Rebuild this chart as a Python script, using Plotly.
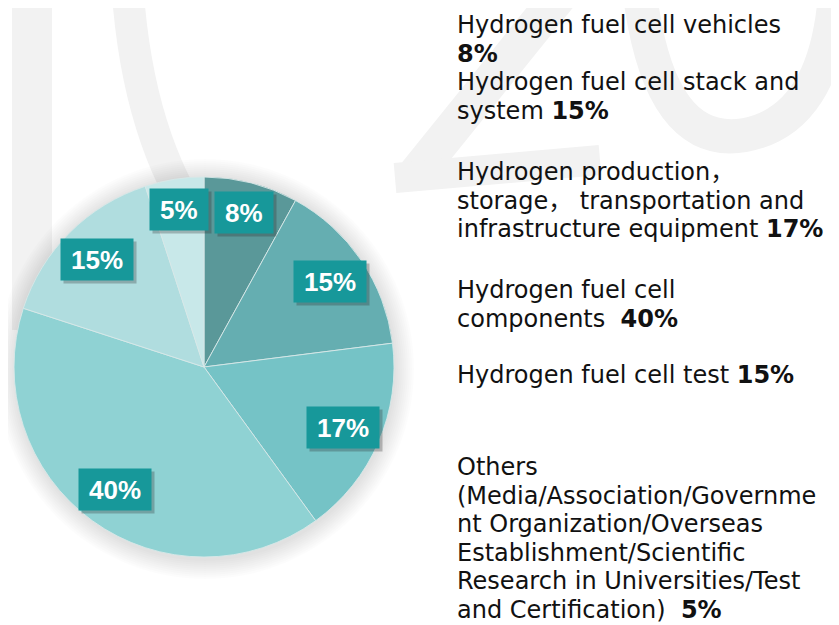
import math
import plotly.graph_objects as go

# ---------------- data ----------------
categories = [
    "Hydrogen fuel cell vehicles",
    "Hydrogen fuel cell stack and system",
    "Hydrogen production, storage, transportation and infrastructure equipment",
    "Hydrogen fuel cell components",
    "Hydrogen fuel cell test",
    "Others",
]
shares = [8, 15, 17, 40, 15, 5]
slice_colors = ["#5a9899", "#65aeb1", "#75c3c6", "#8fd2d3", "#b0dddf", "#c8e8e9"]

legend_blocks = [
    ["Hydrogen fuel cell vehicles", "<b>8%</b>"],
    ["Hydrogen fuel cell stack and", "system <b>15%</b>"],
    ["Hydrogen production\uff0c", "storage\uff0c\u00a0transportation and",
     "infrastructure equipment <b>17%</b>"],
    ["Hydrogen fuel cell", "components\u00a0\u00a0<b>40%</b>"],
    ["Hydrogen fuel cell test <b>15%</b>"],
    ["Others", "(Media/Association/Governme", "nt Organization/Overseas",
     "Establishment/Scientific", "Research in Universities/Test",
     "and Certification)\u00a0\u00a0<b>5%</b>"],
]

# ---------------- layout constants ----------------
PAGE_PAD = 8                      # default body margin of the html page
W, H = 839 - PAGE_PAD, 625 - PAGE_PAD
CX, CY, R = 204, 367, 190         # in window pixels
block_tops = [16.7, 73.3, 163.3, 281.7, 366.7, 458.3]
LINE = 28.6
TEXT_X = 456
TEXT_SIZE = 24
LABEL_SIZE = 26
BOX_COLOR = "#17989a"
TEXT_FONT = "DejaVu Sans, Noto Sans CJK SC"


def px(x):
    return (x - PAGE_PAD) / W


def py(y):
    return 1 - (y - PAGE_PAD) / H


fig = go.Figure()

# faint watermark strokes (decoration behind everything)
wm = "#f2f2f2"
shapes = [
    dict(type="rect", xref="paper", yref="paper", layer="below",
         x0=px(12), x1=px(52), y0=py(330), y1=py(0), line=dict(width=0), fillcolor=wm),
    dict(type="path", xref="paper", yref="paper", layer="below",
         path=f"M {px(128)} {py(-5)} Q {px(140)} {py(150)} {px(210)} {py(240)}",
         line=dict(color=wm, width=32)),
    dict(type="path", xref="paper", yref="paper", layer="below",
         path=f"M {px(560)} {py(-5)} L {px(415)} {py(175)}",
         line=dict(color=wm, width=36)),
    dict(type="path", xref="paper", yref="paper", layer="below",
         path=f"M {px(395)} {py(178)} L {px(600)} {py(160)}",
         line=dict(color=wm, width=30)),
    dict(type="path", xref="paper", yref="paper", layer="below",
         path=f"M {px(640)} {py(-5)} Q {px(660)} {py(150)} {px(745)} {py(135)} Q {px(825)} {py(120)} {px(835)} {py(-5)}",
         line=dict(color=wm, width=34)),
]
# soft shadow around the pie
for i in range(10):
    rr = R + 1 + i * 2
    shapes.append(dict(type="circle", xref="paper", yref="paper", layer="below",
                       x0=px(CX - rr + 1), x1=px(CX + rr + 1), y0=py(CY + rr + 3), y1=py(CY - rr + 1),
                       line=dict(width=0), fillcolor="rgba(0,0,0,0.01)"))

fig.add_trace(go.Pie(
    values=shares,
    labels=categories,
    sort=False,
    direction="clockwise",
    rotation=0,
    marker=dict(colors=slice_colors, line=dict(color="rgba(215,232,232,0.9)", width=1)),
    textinfo="none",
    hoverinfo="label+percent",
    showlegend=False,
    domain=dict(x=[px(CX - R), px(CX + R)], y=[py(CY + R), py(CY - R)]),
))

annotations = []
# percentage boxes placed at the middle angle of every slice
total = sum(shares)
cum = 0
for v in shares:
    mid = (cum + v / 2) / total * 2 * math.pi
    cum += v
    rf = 0.84 if v < 10 else 0.8
    lx = CX + R * rf * math.sin(mid)
    ly = CY - R * rf * math.cos(mid)
    txt = f"{v}%"
    bw = 14.5 * (len(txt) - 1) + 43
    common = dict(xref="paper", yref="paper", x=px(lx), y=py(ly), xanchor="center", yanchor="middle",
                  showarrow=False, width=bw - 4, height=37, borderpad=2, align="center", valign="middle")
    annotations.append(dict(text="\u00a0", bgcolor="rgba(40,40,40,0.28)", xshift=3, yshift=-3,
                            font=dict(family="Liberation Sans, Arial", size=LABEL_SIZE, color="rgba(0,0,0,0)"),
                            **common))
    annotations.append(dict(text=f"<b>{txt}</b>", bgcolor=BOX_COLOR,
                            font=dict(family="Liberation Sans, Arial", size=LABEL_SIZE, color="white"),
                            **common))

# right-hand description text
cap = 0.729 * TEXT_SIZE
for top, lines in zip(block_tops, legend_blocks):
    for j, line in enumerate(lines):
        yc = top + j * LINE + cap / 2
        annotations.append(dict(text=line, xref="paper", yref="paper", x=px(TEXT_X), y=py(yc),
                                xanchor="left", yanchor="middle", showarrow=False, borderpad=0,
                                font=dict(family=TEXT_FONT, size=TEXT_SIZE, color="#111111")))

fig.update_layout(
    width=W, height=H,
    margin=dict(l=0, r=0, t=0, b=0),
    paper_bgcolor="white",
    plot_bgcolor="white",
    shapes=shapes,
    annotations=annotations,
    showlegend=False,
)

fig.write_html("out.html")
